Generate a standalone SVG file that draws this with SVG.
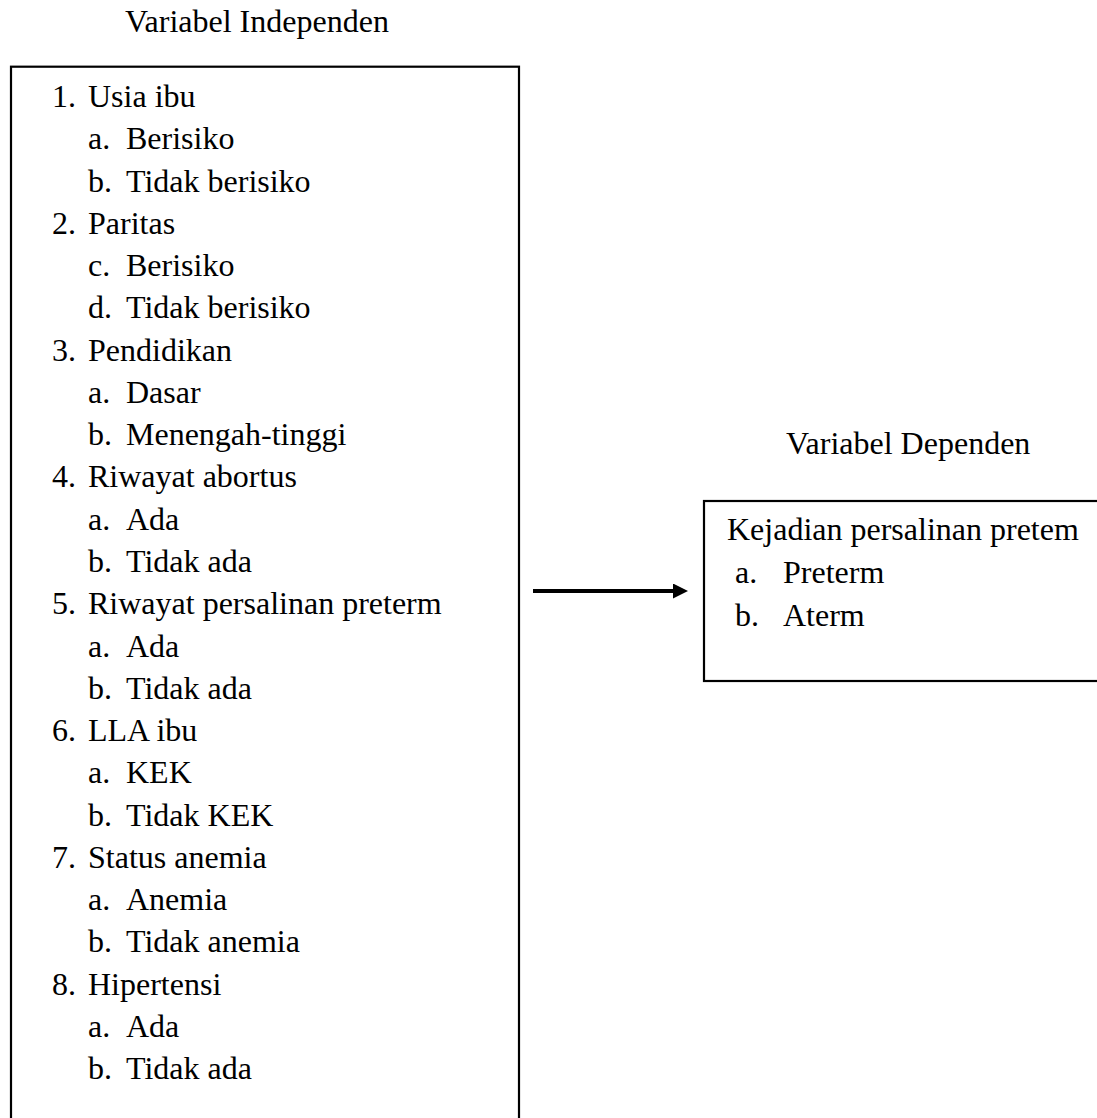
<svg xmlns="http://www.w3.org/2000/svg" width="1097" height="1118" viewBox="0 0 1097 1118">
<style>
text{font-family:"Liberation Serif","Times New Roman",serif;font-size:32px;fill:#000}
.box{fill:#fff;stroke:#000;stroke-width:2.2}
.conn{stroke:#000;stroke-width:4;fill:none}
</style>
<defs>
<marker id="ah" markerUnits="userSpaceOnUse" markerWidth="16" markerHeight="16" refX="3" refY="7.5" orient="auto">
<path d="M0,0 L15,7.5 L0,15 z" fill="#000"/>
</marker>
</defs>
<rect width="1097" height="1118" fill="#fff"/>
<text x="125" y="32">Variabel Independen</text>
<g id="independen">
<rect class="box" x="11" y="66.7" width="508" height="1100"/>
<text x="52" y="107">1.</text><text x="88" y="107">Usia ibu</text>
<text x="88" y="149.3">a.</text><text x="126" y="149.3">Berisiko</text>
<text x="88" y="191.5">b.</text><text x="126" y="191.5">Tidak berisiko</text>
<text x="52" y="233.8">2.</text><text x="88" y="233.8">Paritas</text>
<text x="88" y="276.1">c.</text><text x="126" y="276.1">Berisiko</text>
<text x="88" y="318.4">d.</text><text x="126" y="318.4">Tidak berisiko</text>
<text x="52" y="360.6">3.</text><text x="88" y="360.6">Pendidikan</text>
<text x="88" y="402.9">a.</text><text x="126" y="402.9">Dasar</text>
<text x="88" y="445.2">b.</text><text x="126" y="445.2">Menengah-tinggi</text>
<text x="52" y="487.4">4.</text><text x="88" y="487.4">Riwayat abortus</text>
<text x="88" y="529.7">a.</text><text x="126" y="529.7">Ada</text>
<text x="88" y="572">b.</text><text x="126" y="572">Tidak ada</text>
<text x="52" y="614.2">5.</text><text x="88" y="614.2">Riwayat persalinan preterm</text>
<text x="88" y="656.5">a.</text><text x="126" y="656.5">Ada</text>
<text x="88" y="698.8">b.</text><text x="126" y="698.8">Tidak ada</text>
<text x="52" y="741">6.</text><text x="88" y="741">LLA ibu</text>
<text x="88" y="783.3">a.</text><text x="126" y="783.3">KEK</text>
<text x="88" y="825.6">b.</text><text x="126" y="825.6">Tidak KEK</text>
<text x="52" y="867.8">7.</text><text x="88" y="867.8">Status anemia</text>
<text x="88" y="910.1">a.</text><text x="126" y="910.1">Anemia</text>
<text x="88" y="952.4">b.</text><text x="126" y="952.4">Tidak anemia</text>
<text x="52" y="994.6">8.</text><text x="88" y="994.6">Hipertensi</text>
<text x="88" y="1036.9">a.</text><text x="126" y="1036.9">Ada</text>
<text x="88" y="1079.2">b.</text><text x="126" y="1079.2">Tidak ada</text>
</g>
<text x="786" y="454">Variabel Dependen</text>
<g id="dependen">
<rect class="box" x="704" y="501" width="420" height="180"/>
<text x="727" y="540">Kejadian persalinan pretem</text>
<text x="735" y="583">a.</text><text x="783" y="583">Preterm</text>
<text x="735" y="626">b.</text><text x="783" y="626">Aterm</text>
</g>
<g id="connectors">
<line class="conn" x1="533" y1="591" x2="676" y2="591" marker-end="url(#ah)"/>
</g>
</svg>
